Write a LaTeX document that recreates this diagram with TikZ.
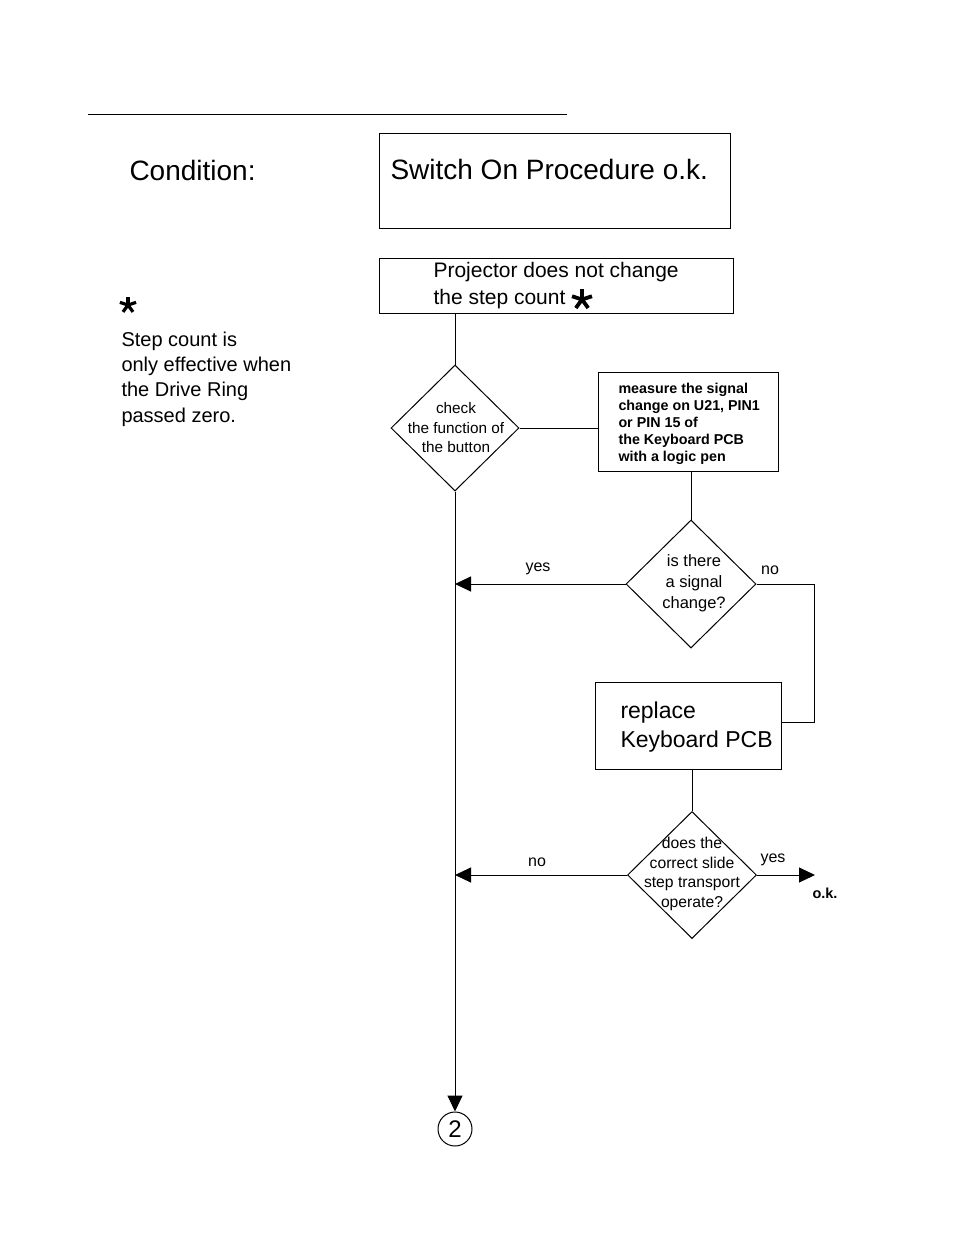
\documentclass[tikz,border=0pt]{standalone}
\usepackage{fontspec}
\setmainfont{Liberation Sans}
\usetikzlibrary{shapes.geometric,arrows.meta,calc}
\newcommand{\astmark}[3]{% center, radius, width
  \foreach \a in {90,18,162,234,306}{\draw[line width=#3, line cap=butt] (#1) -- ++(\a:#2);}%
}
\begin{document}
\begin{tikzpicture}[x=1pt,y=-1pt,line width=1pt,
  box/.style={draw, rectangle, inner sep=0pt},
  dia/.style={draw, diamond, inner sep=0pt},
  txt/.style={inner sep=0pt, align=left},
  ctxt/.style={inner sep=0pt, align=center},
  lbl/.style={inner sep=0pt, font=\fontsize{16}{19}\selectfont},
  arr/.style={-{Triangle[length=16pt,width=15pt]}}]
\useasboundingbox[fill=white] (0,0) rectangle (954,1235);

% top rule
\coordinate (r1) at (88,114);
\coordinate (r2) at (567,114);
\draw (r1) -- (r2);

% condition
\node[txt, anchor=west, font=\fontsize{28}{34}\selectfont] (cond) at (129,170) {Condition:};
\node[box, minimum width=351pt, minimum height=95pt] (b1) at (554.5,180.5) {};
\node[txt, anchor=west, font=\fontsize{28}{34}\selectfont] (t1) at (390,169) {Switch On Procedure o.k.};

% note
\coordinate (ast1) at (128,305);
\astmark{ast1}{8.5pt}{3.2pt}
\node[txt, anchor=west, font=\fontsize{20}{25.3}\selectfont] (note) at (121,379) {Step count is\\only effective when\\the Drive Ring\\passed zero.};

% box 2
\node[box, minimum width=354pt, minimum height=55pt] (b2) at (556,285.5) {};
\node[txt, anchor=west, font=\fontsize{21}{27}\selectfont] (t2) at (433,286) {Projector does not change\\the step count};
\coordinate (ast2) at (582,299.5);
\astmark{ast2}{10.5pt}{3.8pt}

% diamond 1
\node[dia, minimum width=128pt, minimum height=126pt] (d1) at (455,428) {};
\node[ctxt, font=\fontsize{15.3}{19.5}\selectfont] (td1) at (456,428) {check\\the function of\\the button};

% box 3
\node[box, minimum width=180pt, minimum height=99pt] (b3) at (688,421.5) {};
\node[txt, anchor=west, font=\bfseries\fontsize{14.3}{17}\selectfont] (t3) at (618,424) {measure the signal\\change on U21, PIN1\\or PIN 15 of\\the Keyboard PCB\\with a logic pen};

% diamond 2
\node[dia, minimum width=130pt, minimum height=128pt] (d2) at (691,584) {};
\node[ctxt, font=\fontsize{16.5}{21}\selectfont] (td2) at (694,583) {is there\\a signal\\change?};

% box 4
\node[box, minimum width=186pt, minimum height=87pt] (b4) at (688,725.5) {};
\node[txt, anchor=west, font=\fontsize{23}{29}\selectfont] (t4) at (620,727) {replace\\Keyboard PCB};

% diamond 3
\node[dia, minimum width=129pt, minimum height=127pt] (d3) at (692,875) {};
\node[ctxt, font=\fontsize{15.7}{19.8}\selectfont] (td3) at (692,874) {does the\\correct slide\\step transport\\operate?};

% connector circle
\node[draw, circle, minimum size=34pt, inner sep=0pt, font=\fontsize{24}{28}\selectfont] (c2) at (455,1129) {2};

% connectors
\draw (d1.north |- b2.south) -- (d1.north);
\draw (d1.east) -- (d1.east -| b3.west);
\draw (d2.north |- b3.south) -- (d2.north);
\draw[arr] (d2.west) -- (d2.west -| d1.south);
\coordinate (nr) at (814,722);
\draw (d2.east) -| (nr) -- (nr -| b4.east);
\draw (d3.north |- b4.south) -- (d3.north);
\draw[arr] (d3.west) -- (d3.west -| d1.south);
\coordinate (ok) at (815,875);
\draw[arr] (d3.east) -- (ok);
\draw[arr] (d1.south) -- (c2.north);

% labels
\node[lbl] (l1) at (538,569) {yes};
\node[lbl] (l2) at (770,570) {no};
\node[lbl] (l3) at (537,862) {no};
\node[lbl] (l4) at (773,860) {yes};
\node[inner sep=0pt, font=\bfseries\fontsize{14.5}{17}\selectfont] (l5) at (825,893) {o.k.};
\end{tikzpicture}
\end{document}
